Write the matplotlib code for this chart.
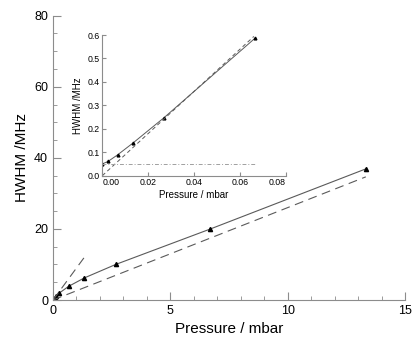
import numpy as np
import matplotlib
matplotlib.use('Agg')
import matplotlib.pyplot as plt
from matplotlib.ticker import MultipleLocator

plt.rcParams['font.family'] = ['Liberation Sans', 'DejaVu Sans']

# measured line widths (HWHM, MHz) against pressure (mbar)
pressure = [0.0, 0.00267, 0.00667, 0.0133, 0.0267, 0.0667,
            0.133, 0.267, 0.667, 1.33, 2.67, 6.67, 13.33]
hwhm = [0.05, 0.062, 0.089, 0.139, 0.246, 0.588,
        1.1, 1.95, 3.85, 6.2, 10.0, 19.9, 36.9]

# limiting behaviour
low_p_slope = 9.0      # MHz/mbar, low pressure asymptote
high_p_slope = 2.6     # MHz/mbar, high pressure asymptote
doppler_hwhm = 0.05    # MHz
low_p_range = [0.0, 1.35]
high_p_range = [0.0, 13.33]
inset_line_range = [0.0, 0.066]
inset_flat_range = [0.0, 0.067]
inset_xticks = [0.0, 0.02, 0.04, 0.06, 0.08]
inset_xticklabels = ['0.00', '0.02', '0.04', '0.06', '0.08']

line_col = '#5a5a5a'
spine_col = '#8c8c8c'

fig = plt.figure(figsize=(4.15, 3.45), dpi=100)

# main panel
ax = fig.add_axes([0.1277, 0.1304, 0.8482, 0.824])
ax.plot(pressure, hwhm, color=line_col, lw=0.8)
ax.plot(pressure, hwhm, '^', color='black', ms=3, ls='none')
x_hi = np.array(high_p_range)
ax.plot(x_hi, high_p_slope * x_hi, color=line_col, lw=0.8, dashes=(8, 5))
x_lo = np.array(low_p_range)
ax.plot(x_lo, low_p_slope * x_lo, color=line_col, lw=0.8, dashes=(8, 5))

ax.set_xlim(0, 15)
ax.set_ylim(0, 80)
ax.xaxis.set_major_locator(MultipleLocator(5))
ax.xaxis.set_minor_locator(MultipleLocator(1))
ax.yaxis.set_major_locator(MultipleLocator(20))
ax.yaxis.set_minor_locator(MultipleLocator(5))
ax.tick_params(which='both', direction='in', color=spine_col, labelsize=9)
ax.tick_params(which='major', length=6)
ax.tick_params(which='minor', length=3)
for side in ['top', 'right']:
    ax.spines[side].set_visible(False)
for side in ['left', 'bottom']:
    ax.spines[side].set_color(spine_col)
ax.set_xlabel('Pressure / mbar', fontsize=11, labelpad=4)
ax.set_ylabel('HWHM /MHz', fontsize=11, labelpad=4)

# inset: low pressure region
ins = fig.add_axes([0.2465, 0.4907, 0.4427, 0.4078])
ins.patch.set_alpha(0)
ins.plot(pressure[:6], hwhm[:6], color=line_col, lw=0.7)
ins.plot(pressure[:6], hwhm[:6], '^', color='black', ms=2, ls='none')
x_in = np.array(inset_line_range)
ins.plot(x_in, low_p_slope * x_in, color=line_col, lw=0.7, dashes=(4, 3))
ins.plot(inset_flat_range, [doppler_hwhm] * 2, color='#a0a0a0', lw=0.7,
         dashes=(4, 2, 1, 2))

ins.set_xlim(0, 0.08)
ins.set_ylim(0, 0.6)
ins.set_xticks(inset_xticks, inset_xticklabels)
ins.yaxis.set_major_locator(MultipleLocator(0.1))
ins.yaxis.set_major_formatter(plt.FormatStrFormatter('%.1f'))
ins.tick_params(direction='in', length=3, color=spine_col, labelsize=6.3, pad=2)
for side in ['top', 'right']:
    ins.spines[side].set_visible(False)
for side in ['left', 'bottom']:
    ins.spines[side].set_color(spine_col)
ins.set_xlabel('Pressure / mbar', fontsize=7, labelpad=2)
ins.set_ylabel('HWHM /MHz', fontsize=7, labelpad=3)

# end labels of the inset x axis sit inside the axis, as in the original
xticks = ins.xaxis.get_major_ticks()
xticks[0].label1.set_horizontalalignment('left')
xticks[-1].label1.set_horizontalalignment('right')

fig.savefig('out.png', dpi=100)
